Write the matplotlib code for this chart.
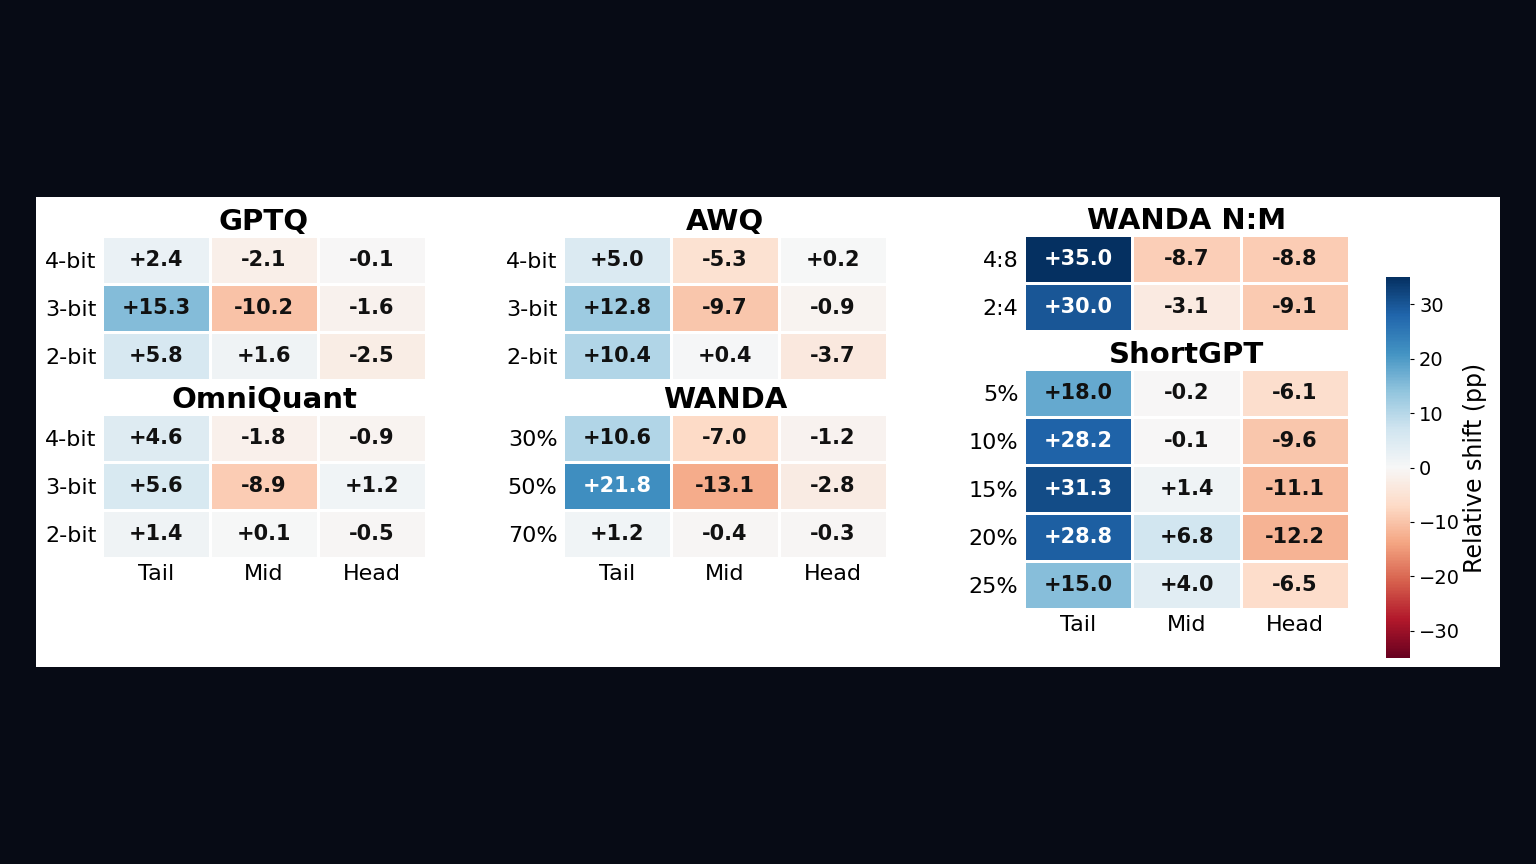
import matplotlib
matplotlib.use("Agg")
import matplotlib.pyplot as plt
import numpy as np
from matplotlib.patches import Rectangle
from matplotlib.colors import Normalize

W, H = 1536, 864
cols = ["Tail", "Mid", "Head"]

gptq_rows = ["4-bit", "3-bit", "2-bit"]
gptq_vals = [[2.4, -2.1, -0.1], [15.3, -10.2, -1.6], [5.8, 1.6, -2.5]]

omni_rows = ["4-bit", "3-bit", "2-bit"]
omni_vals = [[4.6, -1.8, -0.9], [5.6, -8.9, 1.2], [1.4, 0.1, -0.5]]

awq_rows = ["4-bit", "3-bit", "2-bit"]
awq_vals = [[5.0, -5.3, 0.2], [12.8, -9.7, -0.9], [10.4, 0.4, -3.7]]

wanda_rows = ["30%", "50%", "70%"]
wanda_vals = [[10.6, -7.0, -1.2], [21.8, -13.1, -2.8], [1.2, -0.4, -0.3]]

nm_rows = ["4:8", "2:4"]
nm_vals = [[35.0, -8.7, -8.8], [30.0, -3.1, -9.1]]

sg_rows = ["5%", "10%", "15%", "20%", "25%"]
sg_vals = [[18.0, -0.2, -6.1], [28.2, -0.1, -9.6], [31.3, 1.4, -11.1],
           [28.8, 6.8, -12.2], [15.0, 4.0, -6.5]]

VMIN, VMAX = -35, 35
cmap = plt.get_cmap("RdBu")
norm = Normalize(VMIN, VMAX)

fig = plt.figure(figsize=(W / 100, H / 100), dpi=100, facecolor="#070b15")
fig.patches.append(Rectangle((36 / W, 1 - 667 / H), (1500 - 36) / W, (667 - 197) / H,
                             transform=fig.transFigure, facecolor="white",
                             edgecolor="none", zorder=-10))


def rect(x0, y0, x1, y1):
    return [x0 / W, 1 - y1 / H, (x1 - x0) / W, (y1 - y0) / H]


def heat(box, vals, rows, title, xlabels=True):
    ax = fig.add_axes(rect(*box))
    ax.set_facecolor("white")
    v = np.array(vals)
    nr, nc = v.shape
    mesh = ax.pcolormesh(np.arange(nc + 1), np.arange(nr + 1), v, cmap=cmap, norm=norm,
                         edgecolors="white", linewidth=0.8)
    ax.set_xlim(0, nc)
    ax.set_ylim(nr, 0)
    for i in range(nr):
        for j in range(nc):
            val = v[i, j]
            ax.text(j + 0.5, i + 0.5, f"{val:+.1f}", ha="center", va="center",
                    fontsize=15, fontweight="bold",
                    color="white" if abs(val) > 20 else "#111111")
    ax.set_yticks(np.arange(nr) + 0.5)
    ax.set_yticklabels(rows, fontsize=16)
    if xlabels:
        ax.set_xticks(np.arange(nc) + 0.5)
        ax.set_xticklabels(cols, fontsize=16)
    else:
        ax.set_xticks([])
    ax.tick_params(length=0, pad=4)
    for s in ax.spines.values():
        s.set_visible(False)
    ax.set_title(title, fontsize=21, fontweight="bold", pad=3)
    return mesh


heat((102, 236, 426, 380), gptq_vals, gptq_rows, "GPTQ", xlabels=False)
heat((102, 414, 426, 558), omni_vals, omni_rows, "OmniQuant")
heat((563, 236, 887, 380), awq_vals, awq_rows, "AWQ", xlabels=False)
heat((563, 414, 887, 558), wanda_vals, wanda_rows, "WANDA")
heat((1024, 235, 1349, 331), nm_vals, nm_rows, "WANDA N:M", xlabels=False)
mesh = heat((1024, 369, 1349, 609), sg_vals, sg_rows, "ShortGPT")

cax = fig.add_axes(rect(1386, 277, 1410, 658))
cb = fig.colorbar(mesh, cax=cax)
cb.set_ticks([-30, -20, -10, 0, 10, 20, 30])
cb.ax.tick_params(labelsize=14, length=3)
cb.outline.set_visible(False)
cb.set_label("Relative shift (pp)", fontsize=17, labelpad=2)

fig.savefig("out.png", dpi=100, facecolor=fig.get_facecolor())
